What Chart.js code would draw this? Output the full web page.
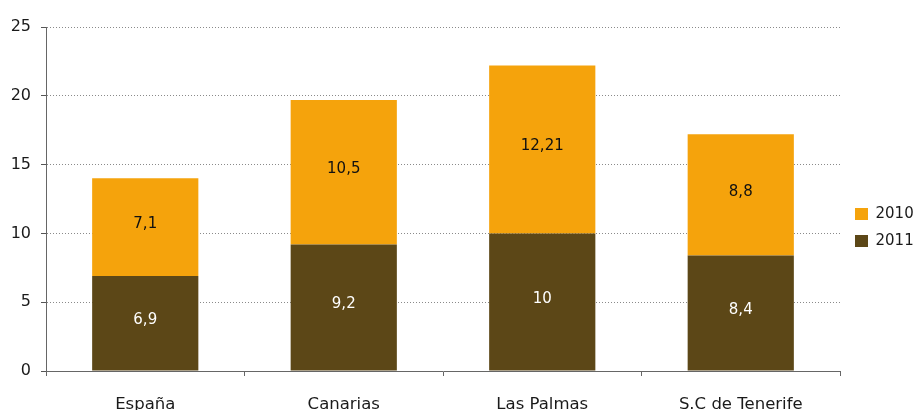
<!DOCTYPE html>
<html>
<head>
<meta charset="utf-8">
<script src="https://cdn.jsdelivr.net/npm/chart.js@4/dist/chart.umd.min.js"></script>
<style>
html,body{margin:0;padding:0;background:#fff;}
#wrap{width:913px;height:410px;position:relative;}
</style>
</head>
<body>
<div id="wrap"><canvas id="c" width="913" height="410"></canvas></div>
<script>
const categories = ["España", "Canarias", "Las Palmas", "S.C de Tenerife"];
const values2011 = [6.9, 9.2, 10, 8.4];
const values2010 = [7.1, 10.5, 12.21, 8.8];
const labels2011 = ["6,9", "9,2", "10", "8,4"];
const labels2010 = ["7,1", "10,5", "12,21", "8,8"];

const FONT = "'DejaVu Sans', sans-serif";

const valueLabels = {
  id: 'valueLabels',
  afterDatasetsDraw(chart) {
    const ctx = chart.ctx;
    ctx.save();
    ctx.font = "15px " + FONT;
    ctx.textAlign = 'center';
    ctx.textBaseline = 'middle';
    chart.data.datasets.forEach((ds, i) => {
      const meta = chart.getDatasetMeta(i);
      meta.data.forEach((el, j) => {
        ctx.fillStyle = ds.labelColor;
        ctx.fillText(ds.valueText[j], el.x, (el.y + el.base) / 2 - 3);
      });
    });
    ctx.restore();
  }
};

const legendFit = {
  id: 'legendFit',
  beforeLayout(chart) {
    const lg = chart.legend;
    if (!lg || lg._fitPatched) return;
    const orig = lg.fit.bind(lg);
    lg.fit = function () { orig(); this.width = 73; };
    lg._fitPatched = true;
  },
  afterLayout(chart) {
    const lg = chart.legend;
    if (!lg) return;
    lg.left += 3; lg.right += 3;
    lg.top += 9; lg.bottom += 9;
  }
};

new Chart(document.getElementById('c'), {
  type: 'bar',
  data: {
    labels: categories,
    datasets: [
      { label: '2011', data: values2011, valueText: labels2011, labelColor: '#ffffff',
        backgroundColor: '#5C4717', categoryPercentage: 1, barPercentage: 0.535 },
      { label: '2010', data: values2010, valueText: labels2010, labelColor: '#111111',
        backgroundColor: '#F5A30C', categoryPercentage: 1, barPercentage: 0.535 }
    ]
  },
  options: {
    responsive: false,
    animation: false,
    layout: { padding: { top: 27, left: 0, right: 0, bottom: 0 } },
    plugins: {
      tooltip: { enabled: false },
      legend: {
        position: 'right',
        reverse: true,
        labels: {
          boxWidth: 13, boxHeight: 12, padding: 12,
          color: '#1a1a1a',
          font: { family: FONT, size: 15 }
        }
      }
    },
    scales: {
      x: {
        stacked: true,
        offset: true,
        grid: { display: true, offset: true, drawOnChartArea: false, drawTicks: true, tickLength: 5, color: '#666' },
        border: { display: true, color: '#666', width: 1 },
        ticks: { color: '#1a1a1a', font: { family: FONT, size: 16.5 }, padding: 19, maxRotation: 0 },
        afterFit(s) { s.height = 39; }
      },
      y: {
        stacked: true,
        min: 0, max: 25,
        ticks: { stepSize: 5, color: '#1a1a1a', font: { family: FONT, size: 16 }, padding: 10 },
        grid: {
          color: (c) => (c.tick && c.tick.value === 0) ? 'rgba(0,0,0,0)' : '#8a8a8a',
          tickBorderDash: [],
          tickColor: '#555',
          tickLength: 5,
          drawTicks: true
        },
        border: { display: true, color: '#666', width: 1, dash: [1, 2] },
        afterFit(s) { s.width = 46; }
      }
    }
  },
  plugins: [valueLabels, legendFit]
});
</script>
</body>
</html>
